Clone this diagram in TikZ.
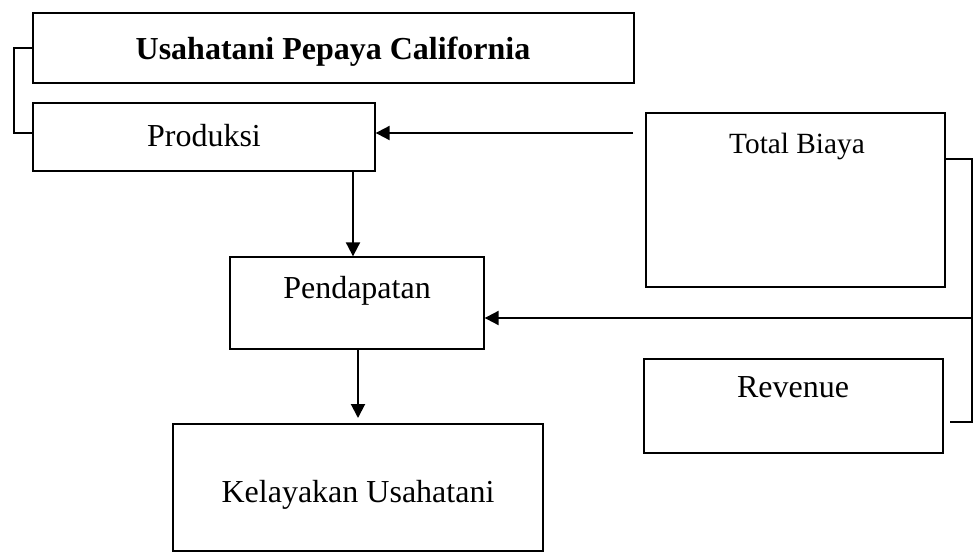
\documentclass[tikz,border=0pt]{standalone}
\usepackage{fontspec}
\setmainfont{Liberation Serif}
\usetikzlibrary{arrows.meta,fit}
\begin{document}
\begin{tikzpicture}[x=0.75pt,y=-0.75pt,
  box/.style={draw, line width=1pt, inner sep=0pt},
  lbl/.style={font=\fontsize{24}{28}\selectfont, anchor=base, inner sep=0pt},
  arr/.style={line width=1.5pt, -{Triangle[length=10.5pt,width=10.5pt]}},
  brk/.style={line width=1.1pt}]
\useasboundingbox (0,0) rectangle (975,554);
% boxes
\node[box, fit={(33,13) (634,83)}] (usaha) {};
\node[box, fit={(33,103) (375,171)}] (prod) {};
\node[box, fit={(230,257) (484,349)}] (pend) {};
\node[box, fit={(173,424) (543,551)}] (kel) {};
\node[box, fit={(646,113) (945,287)}] (tb) {};
\node[box, fit={(644,359) (943,453)}] (rev) {};
% labels
\node[lbl, font=\bfseries\fontsize{24}{28}\selectfont] (usahaT) at (333,59) {Usahatani Pepaya California};
\node[lbl] (prodT) at (204,146) {Produksi};
\node[lbl] (pendT) at (357,298) {Pendapatan};
\node[lbl] (kelT) at (358,502) {Kelayakan Usahatani};
\node[lbl, font=\fontsize{22}{26}\selectfont] (tbT) at (797,153) {Total Biaya};
\node[lbl] (revT) at (793,397) {Revenue};
% left bracket
\coordinate (lb1) at (14,48);
\coordinate (lb2) at (14,133);
\draw[brk] (usaha.west |- lb1) -- (lb1) -- (lb2) -- (prod.west |- lb2);
% right bracket
\coordinate (rb1) at (972,159);
\coordinate (rb2) at (972,422);
\coordinate (rb3) at (950,422);
\coordinate (rbm) at (972,318);
\draw[brk] (tb.east |- rb1) -- (rb1) -- (rb2) -- (rb3);
% arrows
\coordinate (tbfree) at (633,133);
\draw[arr] (tbfree) -- (tbfree -| prod.east);
\draw[arr] (rbm) -- (rbm -| pend.east);
\coordinate (pa) at (353,171);
\draw[arr] (pa) -- (pa |- pend.north);
\coordinate (pb) at (358,349);
\coordinate (pc) at (358,418);
\draw[arr] (pb) -- (pc);
\end{tikzpicture}
\end{document}
